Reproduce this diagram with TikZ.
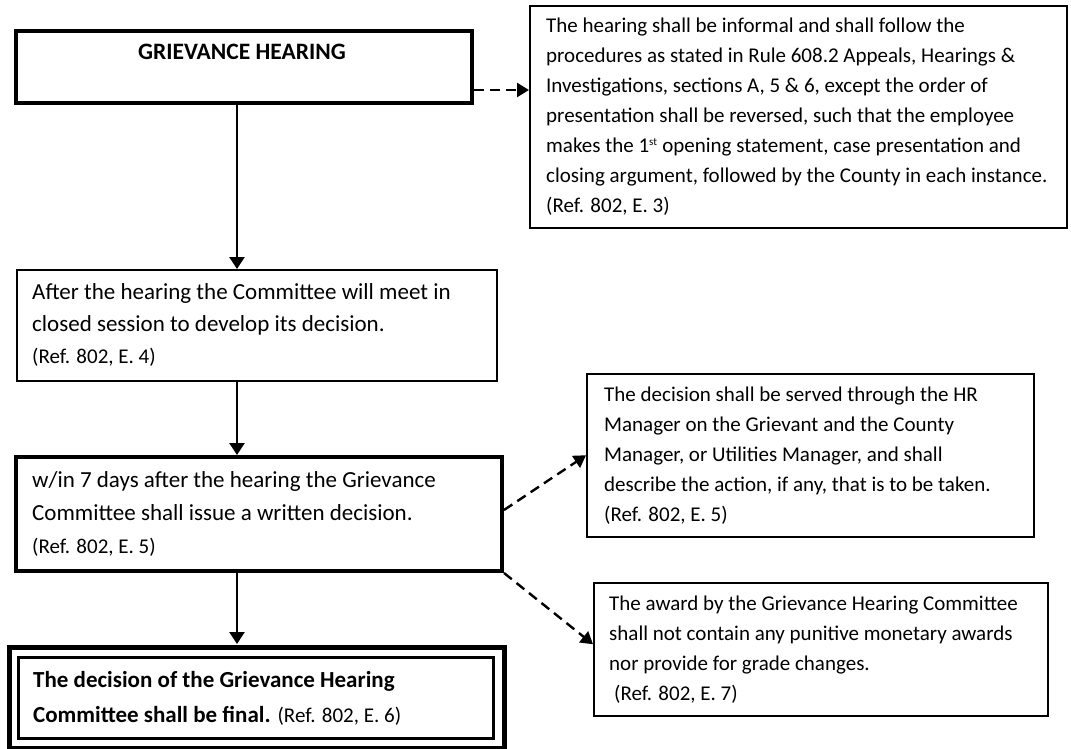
\documentclass[tikz,border=0pt]{standalone}
\usepackage{fontspec}
\setmainfont{Carlito}
\usetikzlibrary{arrows.meta}
\begin{document}
\begin{tikzpicture}[x=1pt,y=-1pt,
  box/.style={draw, rectangle, inner sep=0pt, anchor=north west, line width=1.5pt},
  thickbox/.style={box, line width=4pt},
  txt/.style={anchor=west, align=left, inner sep=0pt, font=\fontsize{21}{30}\selectfont},
  bigtxt/.style={anchor=west, align=left, inner sep=0pt, font=\fontsize{23}{33}\selectfont},
  solidarrow/.style={line width=2.4pt, -{Triangle[width=15pt,length=12pt]}},
  dasharrow/.style={line width=2.4pt, dash pattern=on 10pt off 6pt, -{Triangle[width=14pt,length=12pt]}},
]
\useasboundingbox[fill=white] (0,0) rectangle (1071,748);
\coordinate (xline) at (237,0);

% boxes
\node[thickbox, minimum width=456pt, minimum height=72pt] (boxA) at (14,29) {};
\node[box, minimum width=537pt, minimum height=222pt] (boxB) at (529,5) {};
\node[box, line width=1.8pt, minimum width=480pt, minimum height=111pt] (boxD) at (16,269) {};
\node[box, minimum width=447pt, minimum height=163pt] (boxC) at (586,373) {};
\node[thickbox, minimum width=486pt, minimum height=114pt] (boxE) at (14,455) {};
\node[box, minimum width=454pt, minimum height=133pt] (boxG) at (593,582) {};
\node[box, line width=6pt, minimum width=496pt, minimum height=102pt] (boxF) at (6,644) {};
\draw[white, line width=1.2pt] (boxF.north west) rectangle (boxF.south east);
\node[box, line width=3pt, minimum width=475pt, minimum height=81pt] (boxFin) at (17,656) {};

% texts
\node[inner sep=0pt, font=\bfseries\fontsize{23.5}{27}\selectfont] (tA) at (242,51.5) {GRIEVANCE HEARING};

\node[txt] (tB) at ([xshift=17pt]boxB.west) {The hearing shall be informal and shall follow the\\
procedures as stated in Rule 608.2 Appeals, Hearings \&\\
Investigations, sections A, 5 \& 6, except the order of\\
presentation shall be reversed, such that the employee\\
makes the 1\textsuperscript{\fontsize{11}{11}\selectfont st} opening statement, case presentation and\\
closing argument, followed by the County in each instance.\\
(Ref. 802, E. 3)};

\node[bigtxt, font=\fontsize{23}{32}\selectfont] (tD) at ([xshift=16pt]boxD.west) {After the hearing the Committee will meet in\\
closed session to develop its decision.\\
{\fontsize{21}{30}\selectfont (Ref. 802, E. 4)}};

\node[bigtxt] (tE) at ([xshift=18pt]boxE.west) {w/in 7 days after the hearing the Grievance\\
Committee shall issue a written decision.\\
{\fontsize{21}{30}\selectfont (Ref. 802, E. 5)}};

\node[txt] (tC) at ([xshift=18pt]boxC.west) {The decision shall be served through the HR\\
Manager on the Grievant and the County\\
Manager, or Utilities Manager, and shall\\
describe the action, if any, that is to be taken.\\
(Ref. 802, E. 5)};

\node[txt] (tG) at ([xshift=16pt]boxG.west) {The award by the Grievance Hearing Committee\\
shall not contain any punitive monetary awards\\
nor provide for grade changes.\\
\hspace*{5pt}(Ref. 802, E. 7)};

\node[bigtxt, font=\fontsize{23}{35}\selectfont] (tF) at ([xshift=27pt]boxF.west) {\textbf{The decision of the Grievance Hearing}\\
\textbf{Committee shall be final.} {\fontsize{21}{35}\selectfont (Ref. 802, E. 6)}};

% connectors
\draw[solidarrow] (boxA.south -| xline) -- (boxD.north -| xline);
\draw[solidarrow] (boxD.south -| xline) -- (boxE.north -| xline);
\draw[solidarrow] (boxE.south -| xline) -- (boxF.north -| xline);

\draw[dasharrow] ([yshift=-23pt]boxA.east) coordinate (aout) -- (aout -| boxB.west);
\draw[dasharrow] ([yshift=4pt]boxE.east) -- (boxC.west);
\draw[dasharrow] (boxE.south east) -- ([yshift=5pt]boxG.west);
\end{tikzpicture}
\end{document}
